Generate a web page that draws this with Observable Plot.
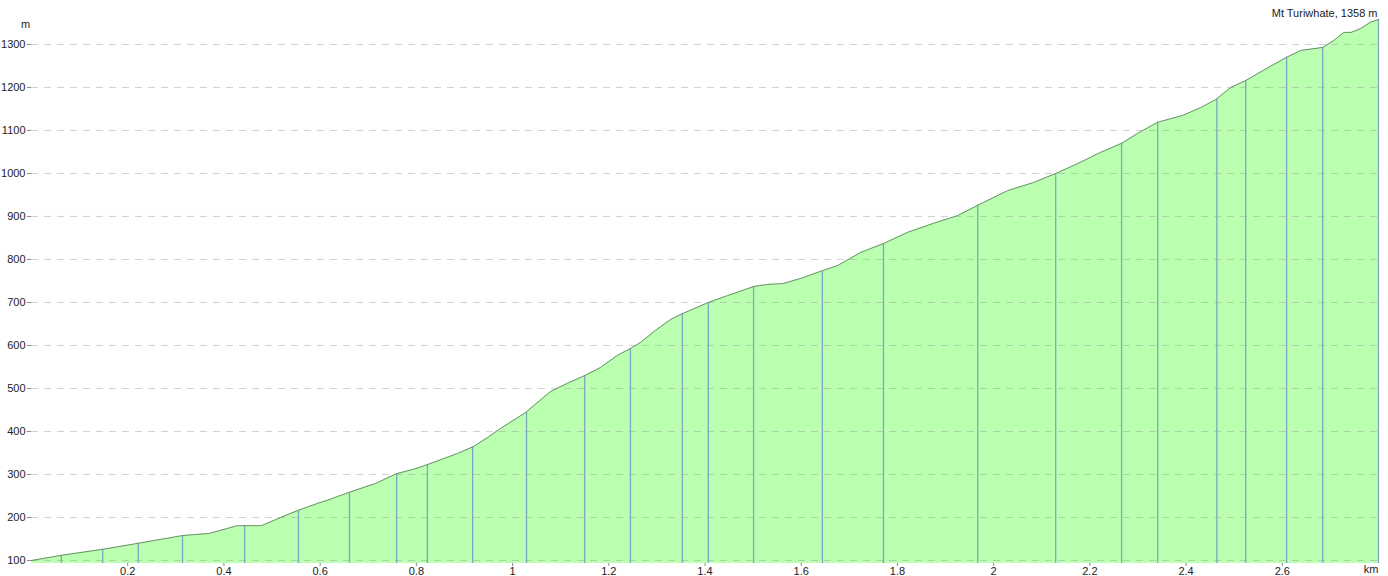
<!DOCTYPE html>
<html><head><meta charset="utf-8">
<script src="https://cdn.jsdelivr.net/npm/d3@7"></script>
<script src="https://cdn.jsdelivr.net/npm/@observablehq/plot@0.6"></script>
<style>body{margin:0;background:#fff} #chart{width:1388px;height:576px}</style>
</head><body><div id="chart"></div>
<script>
// Elevation profile (distance in km, elevation in m)
const distKm = [0, 0.062, 0.148, 0.222, 0.314, 0.370, 0.428, 0.478, 0.518, 0.553, 0.595, 0.615, 0.659, 0.715, 0.759, 0.794, 0.823, 0.886, 0.919, 0.948, 0.975, 1.027, 1.079, 1.114, 1.150, 1.183, 1.218, 1.245, 1.266, 1.297, 1.328, 1.353, 1.407, 1.447, 1.501, 1.530, 1.563, 1.599, 1.644, 1.676, 1.723, 1.771, 1.821, 1.875, 1.925, 1.967, 2.029, 2.083, 2.129, 2.175, 2.222, 2.266, 2.299, 2.341, 2.393, 2.430, 2.462, 2.493, 2.524, 2.561, 2.609, 2.638, 2.684, 2.707, 2.728, 2.743, 2.763, 2.784, 2.800];
const elevM = [100, 112, 126, 140, 158, 163, 181, 181, 200, 216, 233, 240, 258, 279, 302, 312, 323, 349, 365, 386, 407, 444, 493, 512, 530, 549, 577, 593, 607, 635, 660, 674, 700, 716, 737, 742, 744, 756, 774, 786, 816, 837, 863, 884, 902, 926, 960, 979, 1000, 1023, 1049, 1070, 1093, 1119, 1135, 1153, 1172, 1200, 1216, 1240, 1270, 1286, 1293, 1309, 1328, 1328, 1337, 1352, 1358];

// Waypoint markers (vertical lines)
const wpKm = [0.062, 0.148, 0.222, 0.314, 0.443, 0.555, 0.661, 0.759, 0.823, 0.917, 1.029, 1.150, 1.245, 1.353, 1.407, 1.501, 1.644, 1.771, 1.967, 2.129, 2.266, 2.341, 2.464, 2.524, 2.609, 2.684, 2.800];
const wpElev = [112, 126, 140, 158, 181, 216, 258, 302, 323, 365, 444, 530, 593, 674, 700, 737, 774, 837, 926, 1000, 1070, 1119, 1172, 1216, 1270, 1293, 1358];

const yTicks = [100, 200, 300, 400, 500, 600, 700, 800, 900, 1000, 1100, 1200, 1300];
const xTicks = [0.2, 0.4, 0.6, 0.8, 1, 1.2, 1.4, 1.6, 1.8, 2, 2.2, 2.4, 2.6];
const peakLabel = "Mt Turiwhate, 1358 m";
const yUnit = "m";
const xUnit = "km";

const profile = distKm.map((d, i) => ({d, e: elevM[i]}));
const waypoints = wpKm.map((d, i) => ({d, e: wpElev[i]}));
const base = 93;

const chart = Plot.plot({
  width: 1388, height: 576,
  marginLeft: 31, marginRight: 10, marginTop: 19, marginBottom: 13,
  x: {domain: [0, 2.8]},
  y: {domain: [base, 1358]},
  style: {fontFamily: "'Liberation Sans', Arial, sans-serif", fontSize: "11px", color: "#222", background: "#fff"},
  marks: [
    Plot.areaY(profile, {x: "d", y1: base, y2: "e", fill: "#bbffb1"}),
    Plot.ruleY(yTicks, {stroke: "#999", strokeOpacity: 0.45, strokeDasharray: "7,6"}),
    Plot.ruleX(waypoints, {x: "d", y1: base, y2: "e", stroke: "#7ea6c0", strokeWidth: 1.3}),
    Plot.lineY(profile, {x: "d", y: "e", stroke: "#6f8f6f", strokeWidth: 1}),
    Plot.axisY(yTicks, {tickSize: 4, tickPadding: 2, stroke: "#888", fill: "#222", label: null, tickFormat: d => String(d)}),
    Plot.axisX(xTicks, {tickSize: 3, tickPadding: 1, stroke: "#888", fill: "#222", label: null, tickFormat: d => String(d)}),
    Plot.text([peakLabel], {frameAnchor: "top-right", dx: -1, dy: -3, textAnchor: "end", lineAnchor: "bottom", fill: "#222"}),
    Plot.text([yUnit], {frameAnchor: "top-left", dx: -6, dy: 4.5, textAnchor: "middle", lineAnchor: "middle", fill: "#222"}),
    Plot.text([xUnit], {frameAnchor: "bottom-right", dy: 6, textAnchor: "end", lineAnchor: "middle", fill: "#222"})
  ]
});
document.getElementById("chart").appendChild(chart);
</script>
</body></html>
